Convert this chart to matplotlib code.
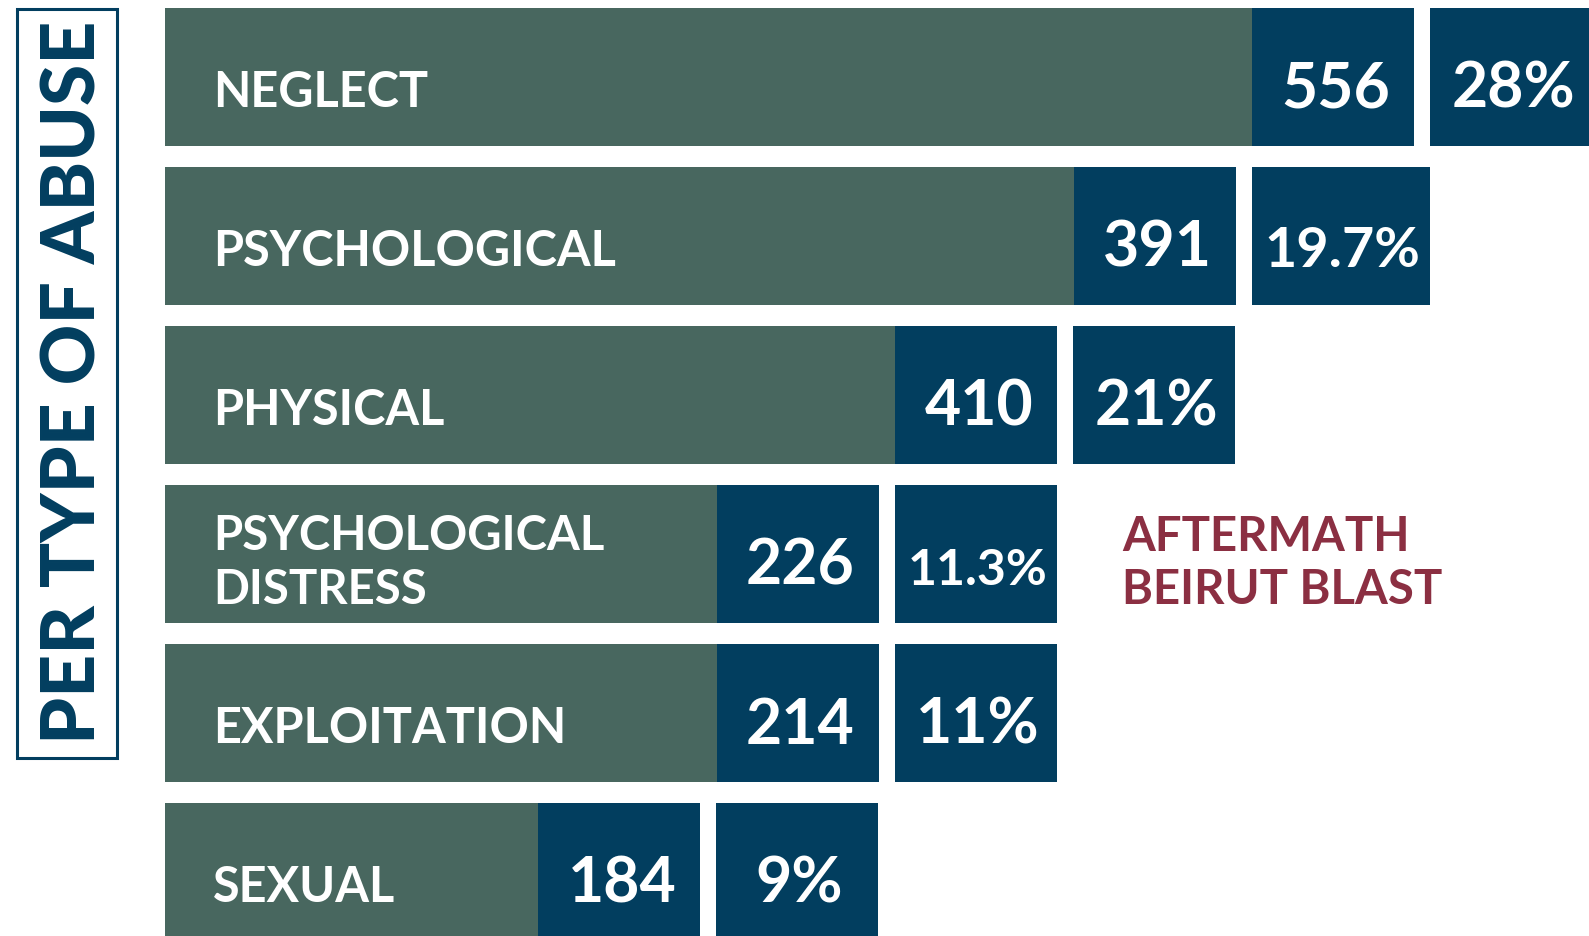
import matplotlib
matplotlib.use("Agg")
import matplotlib.pyplot as plt
from matplotlib.patches import Rectangle

categories = ["NEGLECT", "PSYCHOLOGICAL", "PHYSICAL",
              "PSYCHOLOGICAL\nDISTRESS", "EXPLOITATION", "SEXUAL"]
counts = [556, 391, 410, 226, 214, 184]
pct_labels = ["28%", "19.7%", "21%", "11.3%", "11%", "9%"]
# bar length as drawn in the design (steps, not proportional to counts)
bar_steps = [6, 5, 4, 3, 3, 2]

title = "PER TYPE OF ABUSE"
note = "AFTERMATH\nBEIRUT BLAST"

GREEN = "#48675f"
NAVY = "#023e5f"
MAROON = "#8b2f42"
FONT = "Lato"

W, H = 1589, 937
fig = plt.figure(figsize=(W / 100, H / 100), dpi=100)
ax = fig.add_axes([0, 0, 1, 1])
ax.set_xlim(0, W)
ax.set_ylim(H, 0)
ax.axis("off")

# layout in pixels
x0 = 165
step_px = 178.5
row_h = 138
pitch = 159
top = 9
box_w = 162
gap = 16

fig.canvas.draw()
renderer = fig.canvas.get_renderer()


def fit_text(t, max_w):
    # shrink a label until it fits inside its box
    w = t.get_window_extent(renderer).width
    if w > max_w:
        t.set_fontsize(t.get_fontsize() * max_w / w)


for i, cat in enumerate(categories):
    yc = top + row_h / 2 + i * pitch
    green_w = bar_steps[i] * step_px + gap
    ax.barh(yc, green_w, left=x0, height=row_h, color=GREEN, linewidth=0)
    cnt_left = x0 + green_w
    ax.barh(yc, box_w, left=cnt_left, height=row_h, color=NAVY, linewidth=0)
    pct_left = cnt_left + box_w + gap
    pw = 178 if pct_labels[i] == "19.7%" else box_w
    ax.barh(yc, pw, left=pct_left, height=row_h, color=NAVY, linewidth=0)

    if "\n" in cat:
        ax.text(x0 + 48, yc - 5, cat.split("\n")[0], color="white", fontsize=34,
                fontweight="bold", family=FONT, va="baseline", ha="left")
        ax.text(x0 + 48, yc + 49, cat.split("\n")[1], color="white", fontsize=34,
                fontweight="bold", family=FONT, va="baseline", ha="left")
    else:
        ax.text(x0 + 48, yc + 29, cat, color="white", fontsize=35,
                fontweight="bold", family=FONT, va="baseline", ha="left")

    t1 = ax.text(cnt_left + box_w / 2 + 3, yc + 30, str(counts[i]), color="white",
                 fontsize=45, fontweight="bold", family=FONT, va="baseline", ha="center")
    t2 = ax.text(pct_left + pw / 2 + 2, yc + 30, pct_labels[i], color="white",
                 fontsize=45, fontweight="bold", family=FONT, va="baseline", ha="center")
    fit_text(t1, box_w - 28)
    fit_text(t2, pw - 22)

# side title in an outlined box
ax.add_patch(Rectangle((17, 10), 100, 749, fill=False, edgecolor=NAVY, linewidth=2.2))
ax.text(96, 382, title, rotation=90, rotation_mode="anchor", color=NAVY,
        fontsize=54, fontweight="black", family=FONT, ha="center", va="baseline")

# annotation
n1, n2 = note.split("\n")
ax.text(1122, 551, n1, color=MAROON, fontsize=34, fontweight="bold", family=FONT,
        ha="left", va="baseline")
ax.text(1122, 604, n2, color=MAROON, fontsize=34, fontweight="bold", family=FONT,
        ha="left", va="baseline")

fig.savefig("out.png", dpi=100)
